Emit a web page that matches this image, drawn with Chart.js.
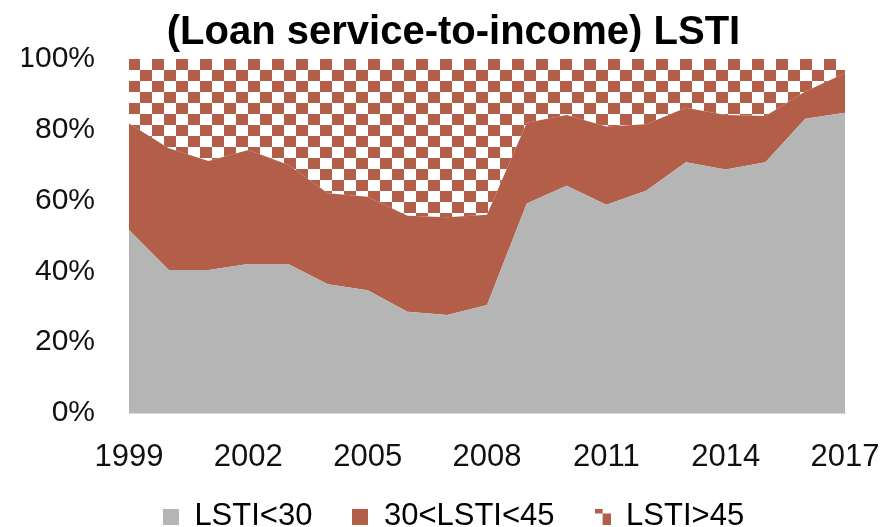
<!DOCTYPE html>
<html>
<head>
<meta charset="utf-8">
<script src="https://cdn.jsdelivr.net/npm/chart.js@4"></script>
<style>
  html, body { margin: 0; padding: 0; background: #fff; }
  #wrap { width: 885px; height: 527px; }
</style>
</head>
<body>
<div id="wrap"><canvas id="myChart" width="885" height="527"></canvas></div>
<script>
const years = ["1999", "2000", "2001", "2002", "2003", "2004", "2005", "2006", "2007", "2008",
  "2009", "2010", "2011", "2012", "2013", "2014", "2015", "2016", "2017"];
// shares in %, each year sums to 100
const lstiLow = [51.7, 40.4, 40.4, 42.1, 42.1, 36.4, 34.7, 28.6, 27.7, 30.5,
  59.2, 64.2, 58.8, 62.8, 70.8, 68.8, 70.8, 83.1, 84.8];
const lstiMid = [30.1, 34.4, 30.8, 32.2, 28.0, 25.7, 26.4, 27.1, 27.6, 25.5,
  22.8, 20.0, 22.1, 18.8, 15.4, 15.4, 13.1, 7.7, 11.2];
const lstiHigh = lstiLow.map((v, i) => +(100 - v - lstiMid[i]).toFixed(1));
const yTicks = [0, 20, 40, 60, 80, 100];

const GREY = "#b5b5b5";
const RUST = "#b25e48";
const FONT = "'Liberation Sans', Arial, sans-serif";

// checkerboard fill for the top band
function makeChecker(cw, ch) {
  const c = document.createElement("canvas");
  c.width = cw * 2; c.height = ch * 2;
  const g = c.getContext("2d");
  g.fillStyle = "#fff";
  g.fillRect(0, 0, c.width, c.height);
  g.fillStyle = RUST;
  g.fillRect(0, 0, cw, ch);
  g.fillRect(cw, ch, cw, ch);
  return c;
}

function legendIcon(kind) {
  const c = document.createElement("canvas");
  c.width = 16; c.height = 16;
  const g = c.getContext("2d");
  if (kind === "pattern") {
    g.fillStyle = RUST;
    g.fillRect(0, 0, 8, 5);
    g.fillRect(8, 5, 8, 11);
  } else {
    g.fillStyle = kind;
    g.fillRect(0, 0, 16, 16);
  }
  return c;
}

// nudge the legend row up after layout so the x labels keep room
const legendNudge = {
  id: "legendNudge",
  afterLayout(chart) {
    chart.legend.top -= 12;
    chart.legend.bottom -= 12;
  }
};

const ctx = document.getElementById("myChart").getContext("2d");
const checker = ctx.createPattern(makeChecker(12, 11), "repeat");
checker.setTransform(new DOMMatrix().translate(128, 59));

const icons = [legendIcon(GREY), legendIcon(RUST), legendIcon("pattern")];

const chart = new Chart(ctx, {
  type: "line",
  data: {
    labels: years,
    datasets: [
      { label: "LSTI<30", data: lstiLow, backgroundColor: GREY, fill: "origin" },
      { label: "30<LSTI<45", data: lstiMid, backgroundColor: RUST, fill: "-1" },
      { label: "LSTI>45", data: lstiHigh, backgroundColor: checker, fill: "-1" }
    ]
  },
  plugins: [legendNudge],
  options: {
    responsive: false,
    animation: false,
    layout: { padding: { left: 22, right: 0, top: 0, bottom: -27 } },
    elements: {
      line: { tension: 0, borderWidth: 0, borderColor: "rgba(0,0,0,0)" },
      point: { radius: 0, hoverRadius: 0 }
    },
    plugins: {
      title: {
        display: true,
        text: "(Loan service-to-income) LSTI",
        color: "#000",
        font: { family: FONT, size: 40, weight: "bold" },
        padding: { top: 9, bottom: 2 }
      },
      legend: {
        position: "bottom",
        labels: {
          color: "#111",
          font: { family: FONT, size: 31 },
          usePointStyle: true,
          boxWidth: 16,
          boxHeight: 16,
          padding: 40,
          generateLabels: (c) => c.data.datasets.map((ds, i) => ({
            text: ds.label,
            pointStyle: icons[i],
            fillStyle: "transparent",
            strokeStyle: "transparent",
            lineWidth: 0,
            datasetIndex: i
          }))
        }
      },
      tooltip: { enabled: false }
    },
    scales: {
      x: {
        grid: { display: false, drawTicks: false },
        border: { color: "#d9d9d9" },
        ticks: {
          autoSkip: false,
          maxRotation: 0,
          color: "#111",
          padding: 26,
          font: { family: FONT, size: 31 },
          callback: (v, i) => (i % 3 === 0 ? years[i] : "")
        },
        afterFit: (s) => {
          s.height = 60;
          s.paddingLeft = 0;
          s.paddingRight = 40;
        }
      },
      y: {
        stacked: true,
        min: 0,
        max: 100,
        afterBuildTicks: (s) => { s.ticks = yTicks.map(v => ({ value: v })); },
        grid: {
          drawTicks: false,
          color: (c) => (c.tick && c.tick.value === 100 ? "#d9d9d9" : "rgba(0,0,0,0)")
        },
        border: { display: false },
        ticks: {
          color: "#111",
          padding: 34,
          font: { family: FONT, size: 30 },
          callback: (v) => v + "%"
        },
        afterFit: (s) => { s.width = 107; }
      }
    }
  }
});
</script>
</body>
</html>
